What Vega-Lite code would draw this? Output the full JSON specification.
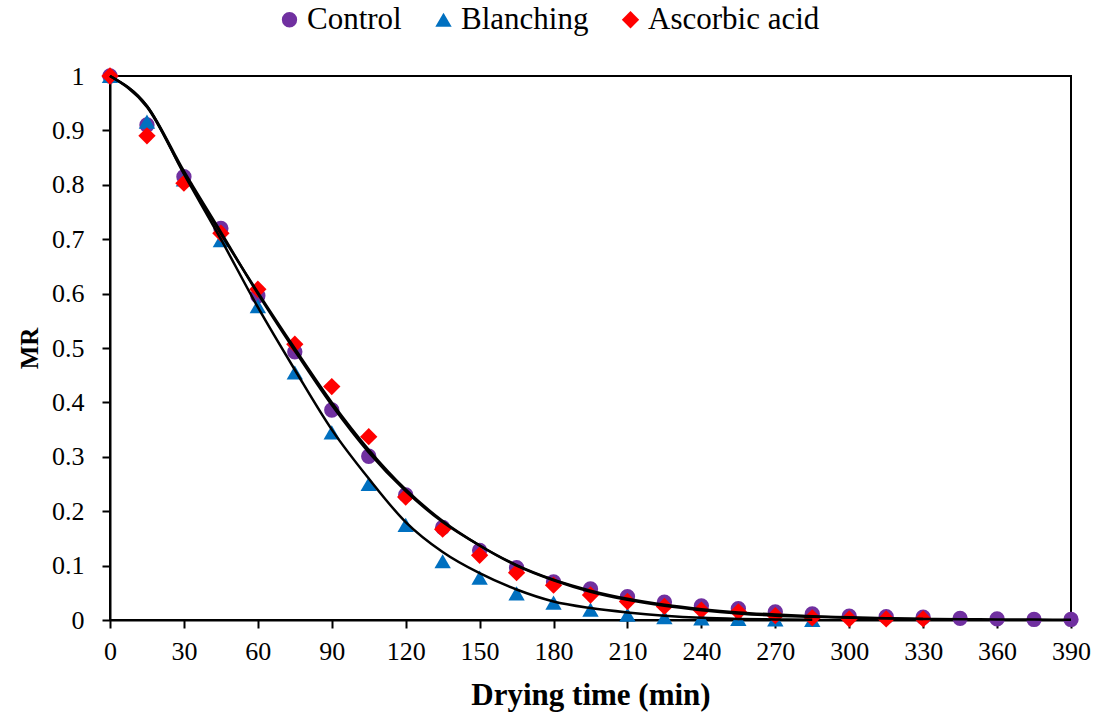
{
  "$schema": "https://vega.github.io/schema/vega-lite/v6.json",
  "width": 961,
  "height": 544,
  "autosize": "none",
  "padding": {"left": 110, "top": 76, "right": 27, "bottom": 99},
  "background": "white",
  "config": {
    "font": "Liberation Serif",
    "view": {"stroke": "black", "strokeWidth": 2},
    "axis": {
      "grid": false,
      "domainColor": "black",
      "domainWidth": 2,
      "tickColor": "black",
      "tickWidth": 2,
      "tickSize": 8,
      "labelFont": "Liberation Serif",
      "labelFontSize": 26,
      "labelColor": "black",
      "labelFlush": false,
      "labelOverlap": false,
      "labelBound": false,
      "titleFont": "Liberation Serif",
      "titleColor": "black",
      "titleFontWeight": "bold"
    }
  },
  "datasets": {
    "points": [
      {"t": 0, "MR": 1.0, "series": "Control"},
      {"t": 15, "MR": 0.91, "series": "Control"},
      {"t": 30, "MR": 0.815, "series": "Control"},
      {"t": 45, "MR": 0.72, "series": "Control"},
      {"t": 60, "MR": 0.596, "series": "Control"},
      {"t": 75, "MR": 0.493, "series": "Control"},
      {"t": 90, "MR": 0.386, "series": "Control"},
      {"t": 105, "MR": 0.301, "series": "Control"},
      {"t": 120, "MR": 0.23, "series": "Control"},
      {"t": 135, "MR": 0.17, "series": "Control"},
      {"t": 150, "MR": 0.128, "series": "Control"},
      {"t": 165, "MR": 0.096, "series": "Control"},
      {"t": 180, "MR": 0.07, "series": "Control"},
      {"t": 195, "MR": 0.057, "series": "Control"},
      {"t": 210, "MR": 0.043, "series": "Control"},
      {"t": 225, "MR": 0.033, "series": "Control"},
      {"t": 240, "MR": 0.026, "series": "Control"},
      {"t": 255, "MR": 0.021, "series": "Control"},
      {"t": 270, "MR": 0.015, "series": "Control"},
      {"t": 285, "MR": 0.011, "series": "Control"},
      {"t": 300, "MR": 0.007, "series": "Control"},
      {"t": 315, "MR": 0.006, "series": "Control"},
      {"t": 330, "MR": 0.005, "series": "Control"},
      {"t": 345, "MR": 0.003, "series": "Control"},
      {"t": 360, "MR": 0.002, "series": "Control"},
      {"t": 375, "MR": 0.001, "series": "Control"},
      {"t": 390, "MR": 0.001, "series": "Control"},
      {"t": 0, "MR": 1.0, "series": "Blanching"},
      {"t": 15, "MR": 0.916, "series": "Blanching"},
      {"t": 30, "MR": 0.81, "series": "Blanching"},
      {"t": 45, "MR": 0.698, "series": "Blanching"},
      {"t": 60, "MR": 0.577, "series": "Blanching"},
      {"t": 75, "MR": 0.455, "series": "Blanching"},
      {"t": 90, "MR": 0.345, "series": "Blanching"},
      {"t": 105, "MR": 0.25, "series": "Blanching"},
      {"t": 120, "MR": 0.175, "series": "Blanching"},
      {"t": 135, "MR": 0.108, "series": "Blanching"},
      {"t": 150, "MR": 0.078, "series": "Blanching"},
      {"t": 165, "MR": 0.049, "series": "Blanching"},
      {"t": 180, "MR": 0.032, "series": "Blanching"},
      {"t": 195, "MR": 0.019, "series": "Blanching"},
      {"t": 210, "MR": 0.01, "series": "Blanching"},
      {"t": 225, "MR": 0.005, "series": "Blanching"},
      {"t": 240, "MR": 0.003, "series": "Blanching"},
      {"t": 255, "MR": 0.002, "series": "Blanching"},
      {"t": 270, "MR": 0.001, "series": "Blanching"},
      {"t": 285, "MR": 0.0, "series": "Blanching"},
      {"t": 0, "MR": 1.0, "series": "Ascorbic acid"},
      {"t": 15, "MR": 0.89, "series": "Ascorbic acid"},
      {"t": 30, "MR": 0.803, "series": "Ascorbic acid"},
      {"t": 45, "MR": 0.711, "series": "Ascorbic acid"},
      {"t": 60, "MR": 0.608, "series": "Ascorbic acid"},
      {"t": 75, "MR": 0.507, "series": "Ascorbic acid"},
      {"t": 90, "MR": 0.429, "series": "Ascorbic acid"},
      {"t": 105, "MR": 0.337, "series": "Ascorbic acid"},
      {"t": 120, "MR": 0.226, "series": "Ascorbic acid"},
      {"t": 135, "MR": 0.167, "series": "Ascorbic acid"},
      {"t": 150, "MR": 0.119, "series": "Ascorbic acid"},
      {"t": 165, "MR": 0.087, "series": "Ascorbic acid"},
      {"t": 180, "MR": 0.064, "series": "Ascorbic acid"},
      {"t": 195, "MR": 0.046, "series": "Ascorbic acid"},
      {"t": 210, "MR": 0.034, "series": "Ascorbic acid"},
      {"t": 225, "MR": 0.025, "series": "Ascorbic acid"},
      {"t": 240, "MR": 0.018, "series": "Ascorbic acid"},
      {"t": 255, "MR": 0.015, "series": "Ascorbic acid"},
      {"t": 270, "MR": 0.008, "series": "Ascorbic acid"},
      {"t": 285, "MR": 0.004, "series": "Ascorbic acid"},
      {"t": 300, "MR": 0.002, "series": "Ascorbic acid"},
      {"t": 315, "MR": 0.002, "series": "Ascorbic acid"},
      {"t": 330, "MR": 0.002, "series": "Ascorbic acid"}
    ],
    "fits": [
      {"t": 0, "MR": 1.0, "model": "Control"},
      {"t": 15, "MR": 0.945, "model": "Control"},
      {"t": 30, "MR": 0.825, "model": "Control"},
      {"t": 45, "MR": 0.713, "model": "Control"},
      {"t": 60, "MR": 0.6, "model": "Control"},
      {"t": 75, "MR": 0.495, "model": "Control"},
      {"t": 90, "MR": 0.395, "model": "Control"},
      {"t": 105, "MR": 0.308, "model": "Control"},
      {"t": 120, "MR": 0.237, "model": "Control"},
      {"t": 135, "MR": 0.18, "model": "Control"},
      {"t": 150, "MR": 0.137, "model": "Control"},
      {"t": 165, "MR": 0.101, "model": "Control"},
      {"t": 180, "MR": 0.074, "model": "Control"},
      {"t": 195, "MR": 0.054, "model": "Control"},
      {"t": 210, "MR": 0.039, "model": "Control"},
      {"t": 225, "MR": 0.028, "model": "Control"},
      {"t": 240, "MR": 0.02, "model": "Control"},
      {"t": 255, "MR": 0.014, "model": "Control"},
      {"t": 270, "MR": 0.01, "model": "Control"},
      {"t": 285, "MR": 0.007, "model": "Control"},
      {"t": 300, "MR": 0.005, "model": "Control"},
      {"t": 315, "MR": 0.003, "model": "Control"},
      {"t": 330, "MR": 0.002, "model": "Control"},
      {"t": 345, "MR": 0.0015, "model": "Control"},
      {"t": 360, "MR": 0.001, "model": "Control"},
      {"t": 375, "MR": 0.0007, "model": "Control"},
      {"t": 390, "MR": 0.0005, "model": "Control"},
      {"t": 0, "MR": 1.0, "model": "Blanching"},
      {"t": 15, "MR": 0.945, "model": "Blanching"},
      {"t": 30, "MR": 0.82, "model": "Blanching"},
      {"t": 45, "MR": 0.7, "model": "Blanching"},
      {"t": 60, "MR": 0.575, "model": "Blanching"},
      {"t": 75, "MR": 0.46, "model": "Blanching"},
      {"t": 90, "MR": 0.35, "model": "Blanching"},
      {"t": 105, "MR": 0.26, "model": "Blanching"},
      {"t": 120, "MR": 0.18, "model": "Blanching"},
      {"t": 135, "MR": 0.125, "model": "Blanching"},
      {"t": 150, "MR": 0.086, "model": "Blanching"},
      {"t": 165, "MR": 0.056, "model": "Blanching"},
      {"t": 180, "MR": 0.034, "model": "Blanching"},
      {"t": 195, "MR": 0.022, "model": "Blanching"},
      {"t": 210, "MR": 0.014, "model": "Blanching"},
      {"t": 225, "MR": 0.008, "model": "Blanching"},
      {"t": 240, "MR": 0.004, "model": "Blanching"},
      {"t": 255, "MR": 0.002, "model": "Blanching"},
      {"t": 270, "MR": 0.001, "model": "Blanching"},
      {"t": 285, "MR": 0.0005, "model": "Blanching"},
      {"t": 0, "MR": 1.0, "model": "Ascorbic acid"},
      {"t": 15, "MR": 0.943, "model": "Ascorbic acid"},
      {"t": 30, "MR": 0.822, "model": "Ascorbic acid"},
      {"t": 45, "MR": 0.71, "model": "Ascorbic acid"},
      {"t": 60, "MR": 0.602, "model": "Ascorbic acid"},
      {"t": 75, "MR": 0.499, "model": "Ascorbic acid"},
      {"t": 90, "MR": 0.4, "model": "Ascorbic acid"},
      {"t": 105, "MR": 0.313, "model": "Ascorbic acid"},
      {"t": 120, "MR": 0.24, "model": "Ascorbic acid"},
      {"t": 135, "MR": 0.182, "model": "Ascorbic acid"},
      {"t": 150, "MR": 0.137, "model": "Ascorbic acid"},
      {"t": 165, "MR": 0.1, "model": "Ascorbic acid"},
      {"t": 180, "MR": 0.073, "model": "Ascorbic acid"},
      {"t": 195, "MR": 0.052, "model": "Ascorbic acid"},
      {"t": 210, "MR": 0.037, "model": "Ascorbic acid"},
      {"t": 225, "MR": 0.026, "model": "Ascorbic acid"},
      {"t": 240, "MR": 0.018, "model": "Ascorbic acid"},
      {"t": 255, "MR": 0.012, "model": "Ascorbic acid"},
      {"t": 270, "MR": 0.008, "model": "Ascorbic acid"},
      {"t": 285, "MR": 0.006, "model": "Ascorbic acid"},
      {"t": 300, "MR": 0.004, "model": "Ascorbic acid"},
      {"t": 315, "MR": 0.003, "model": "Ascorbic acid"},
      {"t": 330, "MR": 0.002, "model": "Ascorbic acid"}
    ]
  },
  "layer": [
    {
      "data": {"name": "points"},
      "mark": {"type": "point", "filled": true, "opacity": 1},
      "encoding": {
        "x": {
          "field": "t", "type": "quantitative",
          "scale": {"domain": [0, 390], "nice": false, "zero": true},
          "axis": {
            "values": [0, 30, 60, 90, 120, 150, 180, 210, 240, 270, 300, 330, 360, 390],
            "title": "Drying time (min)",
            "titleFontSize": 31,
            "titlePadding": 16,
            "labelPadding": 10
          }
        },
        "y": {
          "field": "MR", "type": "quantitative",
          "scale": {"domain": [0, 1], "nice": false},
          "axis": {
            "values": [0, 0.1, 0.2, 0.3, 0.4, 0.5, 0.6, 0.7, 0.8, 0.9, 1],
            "format": ".1~f",
            "title": "MR",
            "titleFontSize": 25,
            "titlePadding": 9,
            "labelPadding": 18
          }
        },
        "color": {
          "field": "series", "type": "nominal",
          "scale": {"domain": ["Control", "Blanching", "Ascorbic acid"], "range": ["#7030A0", "#0070C0", "#FF0000"]},
          "legend": {
            "title": null,
            "orient": "none",
            "direction": "horizontal",
            "legendX": 164,
            "legendY": -72,
            "labelFontSize": 31,
            "labelFont": "Liberation Serif",
            "labelColor": "black",
            "labelLimit": 0,
            "symbolSize": 190,
            "symbolOpacity": 1,
            "columnPadding": 26,
            "labelOffset": 2
          }
        },
        "shape": {
          "field": "series", "type": "nominal",
          "scale": {"domain": ["Control", "Blanching", "Ascorbic acid"], "range": ["circle", "triangle-up", "diamond"]}
        },
        "size": {
          "field": "series", "type": "nominal",
          "scale": {"domain": ["Control", "Blanching", "Ascorbic acid"], "range": [235, 300, 260]},
          "legend": null
        }
      }
    },
    {
      "data": {"name": "fits"},
      "mark": {"type": "line", "color": "black", "strokeWidth": 2.5, "interpolate": "monotone"},
      "encoding": {
        "x": {"field": "t", "type": "quantitative"},
        "y": {"field": "MR", "type": "quantitative"},
        "detail": {"field": "model", "type": "nominal"}
      }
    },
    {
      "mark": {"type": "text", "text": "(B)", "font": "Liberation Serif", "fontSize": 26, "fontWeight": "bold", "align": "right", "baseline": "middle", "color": "black"},
      "encoding": {
        "x": {"datum": 382},
        "y": {"datum": 0.94}
      }
    }
  ]
}
